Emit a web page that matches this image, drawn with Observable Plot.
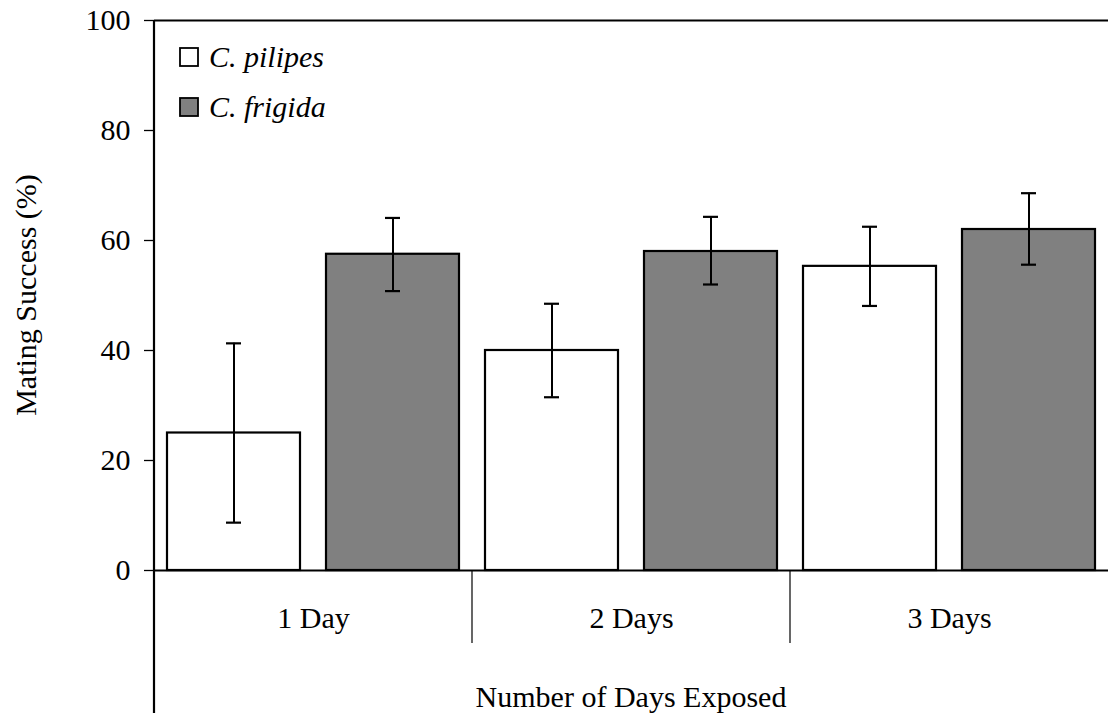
<!DOCTYPE html>
<html><head><meta charset="utf-8">
<script src="https://cdn.jsdelivr.net/npm/d3@7"></script>
<script src="https://cdn.jsdelivr.net/npm/@observablehq/plot@0.6"></script>
<style>html,body{margin:0;padding:0;background:#fff}svg{display:block}</style>
</head><body><div id="chart"></div>
<script>
// ---- data ----
const days = ["1 Day", "2 Days", "3 Days"];
const species = ["C. pilipes", "C. frigida"];
const speciesFill = ["#ffffff", "#808080"];
const pilipesMean = [25, 40, 55.3];
const pilipesLow = [8.7, 31.5, 48.1];
const pilipesHigh = [41.3, 48.5, 62.5];
const frigidaMean = [57.5, 58, 62];
const frigidaLow = [50.8, 52, 55.6];
const frigidaHigh = [64.1, 64.3, 68.6];
const yTicks = [0, 20, 40, 60, 80, 100];
const yLabel = "Mating Success (%)";
const xLabel = "Number of Days Exposed";

const rows = [];
days.forEach((d, i) => {
  rows.push({day: d, species: species[0], mean: pilipesMean[i], lo: pilipesLow[i], hi: pilipesHigh[i]});
  rows.push({day: d, species: species[1], mean: frigidaMean[i], lo: frigidaLow[i], hi: frigidaHigh[i]});
});

const FONT = "'Liberation Serif', 'Times New Roman', serif";
const FS = 30;

const chart = Plot.plot({
  width: 1109,
  height: 713,
  marginLeft: 153,
  marginRight: 0,
  marginTop: 20,
  marginBottom: 143,
  style: {fontFamily: FONT, fontSize: FS + "px", background: "#fff", color: "#000", overflow: "visible"},
  fx: {domain: days, padding: 0, label: null},
  x: {domain: species, paddingInner: 0.163, paddingOuter: 0.0815, axis: null},
  y: {domain: [0, 100]},
  color: {domain: species, range: speciesFill},
  marks: [
    Plot.axisY({ticks: yTicks, tickSize: 10, tickPadding: 14, label: null, fontSize: FS, stroke: "#000", strokeWidth: 1.3}),
    Plot.axisFx({anchor: "bottom", tickSize: 0, tickPadding: 36, label: null, fontSize: FS}),
    Plot.barY(rows, {fx: "day", x: "species", y: "mean", fill: "species", stroke: "#000", strokeWidth: 2.2}),
    Plot.ruleX(rows, {fx: "day", x: "species", y1: "lo", y2: "hi", stroke: "#000", strokeWidth: 2}),
    Plot.tickY(rows, {fx: "day", x: "species", y: "lo", stroke: "#000", strokeWidth: 2.2, insetLeft: 59, insetRight: 59}),
    Plot.tickY(rows, {fx: "day", x: "species", y: "hi", stroke: "#000", strokeWidth: 2.2, insetLeft: 59, insetRight: 59}),
    Plot.ruleY([0], {stroke: "#000", strokeWidth: 2.2}),
    Plot.ruleY([100], {stroke: "#000", strokeWidth: 2.2})
  ]
});

document.getElementById("chart").appendChild(chart);

// ---- decorations using the chart's scales ----
const svg = d3.select(chart);
const ys = chart.scale("y");
const fxs = chart.scale("fx");
const y0 = ys.apply(0), y100 = ys.apply(100), y50 = ys.apply(50);
const left = fxs.apply(days[0]);
const right = fxs.apply(days[days.length - 1]) + fxs.bandwidth;
const g = svg.append("g").attr("text-anchor", "start");

// left axis line, extending through the category rows
g.append("line").attr("x1", left).attr("x2", left).attr("y1", y100).attr("y2", 713)
  .attr("stroke", "#000").attr("stroke-width", 2.2);
// group separators
days.slice(1).forEach(d => {
  const x = fxs.apply(d);
  g.append("line").attr("x1", x).attr("x2", x).attr("y1", y0).attr("y2", y0 + 73)
    .attr("stroke", "#000").attr("stroke-width", 1.2);
});
// axis titles
g.append("text").text(yLabel)
  .attr("transform", `translate(36,${y50}) rotate(-90)`)
  .attr("text-anchor", "middle").attr("font-family", FONT).attr("font-size", FS).attr("fill", "#000");
g.append("text").text(xLabel)
  .attr("x", (left + right) / 2).attr("y", 707)
  .attr("text-anchor", "middle").attr("font-family", FONT).attr("font-size", FS).attr("fill", "#000");

// legend
species.forEach((s, i) => {
  const by = y100 + 28 + i * 50;
  g.append("rect").attr("x", left + 26).attr("y", by).attr("width", 18).attr("height", 18)
    .attr("fill", speciesFill[i]).attr("stroke", "#000").attr("stroke-width", 1.8);
  g.append("text").text(s).attr("x", left + 55).attr("y", by + 19)
    .attr("text-anchor", "start")
    .attr("font-family", FONT).attr("font-style", "italic").attr("font-size", FS).attr("fill", "#000");
});
</script>
</body></html>
